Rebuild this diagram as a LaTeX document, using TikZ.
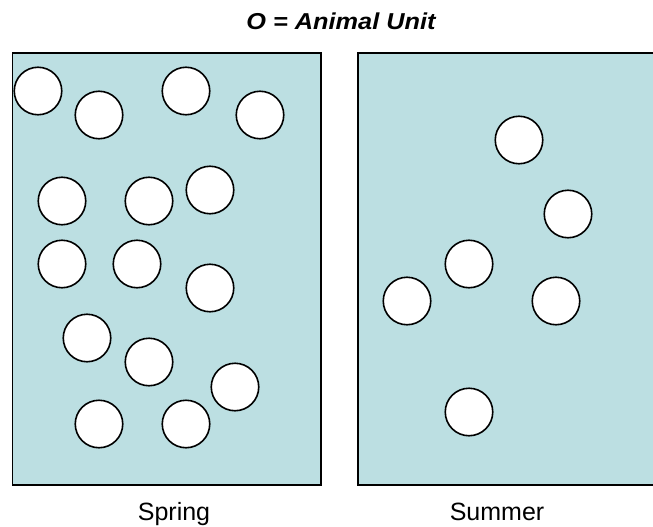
\documentclass[tikz,border=0pt]{standalone}
\usepackage{fontspec}
\setmainfont{Liberation Sans}
\definecolor{pasture}{RGB}{188,223,226}
\begin{document}
\begin{tikzpicture}[x=1pt,y=-1pt,
  unit/.style={circle,draw=black,fill=white,line width=1.6pt,minimum size=47.5pt,inner sep=0pt},
  field/.style={draw=black,fill=pasture,line width=1.5pt},
  lbl/.style={font=\fontsize{25}{28}\selectfont,anchor=base,inner sep=0pt}]
\useasboundingbox (0,0) rectangle (653,527);
\clip (0,0) rectangle (653,527);
\draw[field] (12.5,53) rectangle (321,485);
\draw[field] (358,53) rectangle (670,485);
\node[lbl,font=\fontsize{23}{26}\selectfont\bfseries\itshape,xscale=1.1] (title) at (341,30) {O = Animal Unit};
\node[lbl] (spring) at (174,520) {Spring};
\node[lbl] (summer) at (497,520) {Summer};
% Spring units
\node[unit] (s1) at (38,91) {};
\node[unit] (s2) at (99,115) {};
\node[unit] (s3) at (186,91) {};
\node[unit] (s4) at (260,115) {};
\node[unit] (s5) at (62,201) {};
\node[unit] (s6) at (149,201) {};
\node[unit] (s7) at (210,190) {};
\node[unit] (s8) at (62,264) {};
\node[unit] (s9) at (137,264) {};
\node[unit] (s10) at (210,288) {};
\node[unit] (s11) at (87,338) {};
\node[unit] (s12) at (149,362) {};
\node[unit] (s13) at (235,387) {};
\node[unit] (s14) at (99,424) {};
\node[unit] (s15) at (186,424) {};
% Summer units
\node[unit] (u1) at (519,140) {};
\node[unit] (u2) at (568,214) {};
\node[unit] (u3) at (469,264) {};
\node[unit] (u4) at (407,301) {};
\node[unit] (u5) at (556,301) {};
\node[unit] (u6) at (469,412) {};
\end{tikzpicture}
\end{document}
